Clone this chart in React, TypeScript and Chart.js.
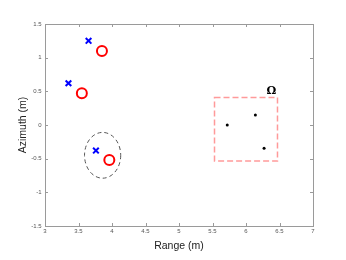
import React, { useEffect, useRef } from "react";
import { Chart, registerables } from "chart.js";

Chart.register(...registerables);

const detectedX = [3.65, 3.35, 3.76];
const detectedY = [1.25, 0.62, -0.38];
const trueX = [3.85, 3.55, 3.96];
const trueY = [1.1, 0.47, -0.52];
const omegaX = [5.72, 6.14, 6.27];
const omegaY = [0.0, 0.15, -0.345];
const ellipseCenter = [3.86, -0.45];
const ellipseRadii = [0.27, 0.34];
const omegaRect = [5.53, -0.535, 6.47, 0.41]; // xmin, ymin, xmax, ymax
const omegaLabel = ["Ω"];
const omegaLabelPos = [6.38, 0.5];
const xTickRange = [3, 7, 0.5];
const yTickRange = [-1.5, 1.5, 0.5];
const xTitle = "Range (m)";
const yTitle = "Azimuth (m)";

const toPts = (xs: number[], ys: number[]) => xs.map((x, i) => ({ x, y: ys[i] }));

const fmt = (v: number) => {
  const r = Math.round(v * 10) / 10;
  return String(r);
};

const decorPlugin = {
  id: "decor",
  beforeDatasetsDraw(chart: any) {
    const { ctx, chartArea: a, scales } = chart;
    const xs = scales.x;
    const ys = scales.y;
    ctx.save();
    // box
    ctx.strokeStyle = "#9a9a9a";
    ctx.lineWidth = 1;
    ctx.strokeRect(Math.round(a.left) + 0.5, Math.round(a.top) + 0.5, Math.round(a.right - a.left), Math.round(a.bottom - a.top));
    // inward ticks
    const tl = 3;
    ctx.beginPath();
    for (let v = xTickRange[0]; v <= xTickRange[1] + 1e-9; v += xTickRange[2]) {
      const px = Math.round(xs.getPixelForValue(v)) + 0.5;
      ctx.moveTo(px, a.bottom);
      ctx.lineTo(px, a.bottom - tl);
      ctx.moveTo(px, a.top);
      ctx.lineTo(px, a.top + tl);
    }
    for (let v = yTickRange[0]; v <= yTickRange[1] + 1e-9; v += yTickRange[2]) {
      const py = Math.round(ys.getPixelForValue(v)) + 0.5;
      ctx.moveTo(a.left, py);
      ctx.lineTo(a.left + tl, py);
      ctx.moveTo(a.right, py);
      ctx.lineTo(a.right - tl, py);
    }
    ctx.stroke();

    // ellipse
    const cx = xs.getPixelForValue(ellipseCenter[0]);
    const cy = ys.getPixelForValue(ellipseCenter[1]);
    const rx = Math.abs(xs.getPixelForValue(ellipseCenter[0] + ellipseRadii[0]) - cx);
    const ry = Math.abs(ys.getPixelForValue(ellipseCenter[1] + ellipseRadii[1]) - cy);
    ctx.strokeStyle = "#555555";
    ctx.lineWidth = 1;
    ctx.setLineDash([4, 3]);
    ctx.beginPath();
    ctx.ellipse(cx, cy, rx, ry, 0, 0, Math.PI * 2);
    ctx.stroke();

    // rectangle
    const x1 = xs.getPixelForValue(omegaRect[0]);
    const y1 = ys.getPixelForValue(omegaRect[3]);
    const x2 = xs.getPixelForValue(omegaRect[2]);
    const y2 = ys.getPixelForValue(omegaRect[1]);
    ctx.strokeStyle = "#ff9a9a";
    ctx.lineWidth = 1.5;
    ctx.setLineDash([6, 3]);
    ctx.strokeRect(x1, y1, x2 - x1, y2 - y1);
    ctx.setLineDash([]);

    // omega label
    ctx.fillStyle = "#000000";
    ctx.font = "bold 11px 'DejaVu Serif', 'Liberation Serif', serif";
    ctx.textAlign = "center";
    ctx.textBaseline = "middle";
    ctx.fillText(omegaLabel[0], xs.getPixelForValue(omegaLabelPos[0]), ys.getPixelForValue(omegaLabelPos[1]));

    ctx.restore();
  },
};

export default function App() {
  const ref = useRef<HTMLCanvasElement>(null);
  useEffect(() => {
    document.body.style.margin = "0";
    const chart = new Chart(ref.current as HTMLCanvasElement, {
      type: "scatter",
      data: {
        datasets: [
          {
            data: toPts(detectedX, detectedY),
            pointStyle: "crossRot",
            pointRadius: 4,
            borderColor: "#0000ff",
            backgroundColor: "#0000ff",
            pointBorderWidth: 2,
          },
          {
            data: toPts(trueX, trueY),
            pointStyle: "circle",
            pointRadius: 5,
            borderColor: "#ff0000",
            backgroundColor: "rgba(0,0,0,0)",
            pointBorderWidth: 2,
          },
          {
            data: toPts(omegaX, omegaY),
            pointStyle: "circle",
            pointRadius: 1.5,
            borderColor: "#000000",
            backgroundColor: "#000000",
            pointBorderWidth: 0,
          },
        ],
      },
      options: {
        animation: false,
        responsive: false,
        events: [],
        layout: { padding: { top: 24, right: 33, left: 0, bottom: 0 } },
        plugins: { legend: { display: false }, tooltip: { enabled: false } },
        scales: {
          x: {
            type: "linear",
            min: xTickRange[0],
            max: xTickRange[1],
            border: { display: false },
            grid: { display: false, drawTicks: false, tickLength: 0 },
            ticks: {
              stepSize: xTickRange[2],
              color: "#555555",
              font: { size: 6, family: "'Liberation Sans', Arial, sans-serif" },
              padding: 2,
              maxRotation: 0,
              callback: (v: any) => fmt(Number(v)),
            },
            title: {
              display: true,
              text: xTitle,
              color: "#222222",
              font: { size: 10.5, family: "'Liberation Sans', Arial, sans-serif" },
              padding: { top: 0, bottom: 7.2 },
            },
            afterFit: (s: any) => {
              s.height = 34;
            },
          },
          y: {
            type: "linear",
            min: yTickRange[0],
            max: yTickRange[1],
            border: { display: false },
            grid: { display: false, drawTicks: false, tickLength: 0 },
            ticks: {
              stepSize: yTickRange[2],
              color: "#555555",
              font: { size: 6, family: "'Liberation Sans', Arial, sans-serif" },
              padding: 3.5,
              callback: (v: any) => fmt(Number(v)),
            },
            title: {
              display: true,
              text: yTitle,
              color: "#222222",
              font: { size: 10.5, family: "'Liberation Sans', Arial, sans-serif" },
              padding: { top: 17.2, bottom: 0 },
            },
            afterFit: (s: any) => {
              s.width = 45;
            },
          },
        },
      },
      plugins: [decorPlugin],
    } as any);
    return () => chart.destroy();
  }, []);
  return <canvas ref={ref} width={346} height={260} style={{ display: "block" }} />;
}
